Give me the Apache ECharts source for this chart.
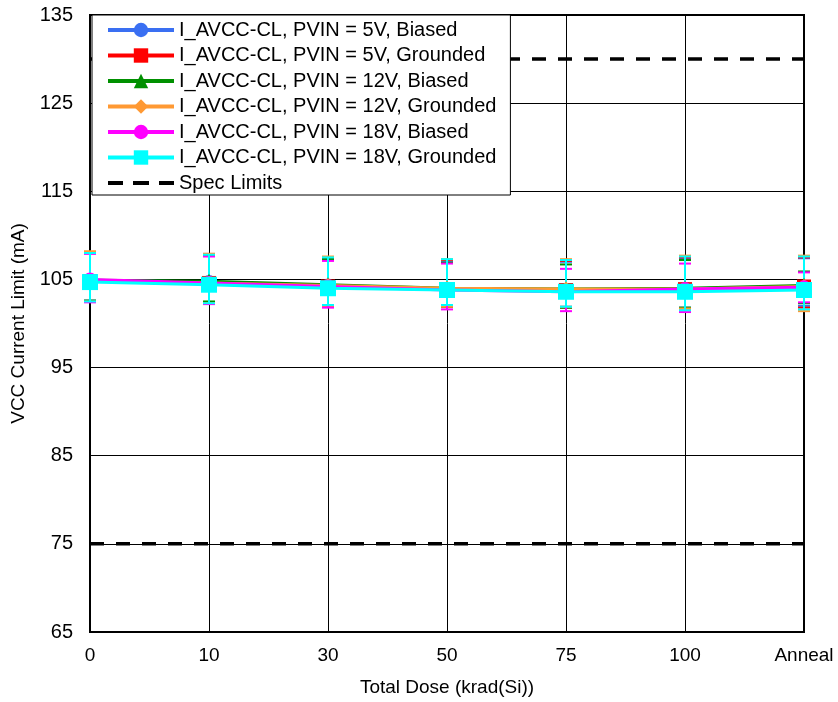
<!DOCTYPE html>
<html>
<head>
<meta charset="utf-8">
<script src="https://cdn.jsdelivr.net/npm/echarts@6/dist/echarts.min.js"></script>
<style>html,body{margin:0;padding:0;background:#fff;}#c{width:838px;height:702px;}</style>
</head>
<body>
<div id="c"></div>
<script>
const categories = ['0', '10', '30', '50', '75', '100', 'Anneal'];
const yTicks = [65, 75, 85, 95, 105, 115, 125, 135];

const names = [
  'I_AVCC-CL, PVIN = 5V, Biased',
  'I_AVCC-CL, PVIN = 5V, Grounded',
  'I_AVCC-CL, PVIN = 12V, Biased',
  'I_AVCC-CL, PVIN = 12V, Grounded',
  'I_AVCC-CL, PVIN = 18V, Biased',
  'I_AVCC-CL, PVIN = 18V, Grounded'
];

const mean5B  = [104.9, 104.7, 104.3, 103.9, 103.7, 103.8, 104.1];
const mean5G  = [104.8, 104.6, 104.2, 103.9, 103.8, 103.9, 104.2];
const mean12B = [104.9, 104.8, 104.4, 104.0, 103.9, 104.0, 104.3];
const mean12G = [104.8, 104.6, 104.3, 104.0, 103.9, 103.9, 104.2];
const mean18B = [105.0, 104.6, 104.2, 103.8, 103.6, 103.9, 104.1];
const mean18G = [104.7, 104.4, 104.0, 103.8, 103.6, 103.6, 103.8];

const hi5B  = [108.0, 107.8, 107.4, 107.1, 107.0, 107.4, 107.4];
const lo5B  = [102.6, 102.4, 102.1, 102.0, 101.9, 101.8, 102.0];
const hi5G  = [108.1, 107.9, 107.5, 107.2, 107.1, 107.5, 107.5];
const lo5G  = [102.5, 102.3, 102.0, 101.9, 101.8, 101.7, 101.8];
const hi12B = [108.0, 107.7, 107.3, 106.9, 106.7, 107.2, 105.9];
const lo12B = [102.6, 102.5, 102.1, 101.9, 101.8, 101.8, 102.3];
const hi12G = [108.2, 107.9, 107.6, 107.3, 107.3, 107.7, 107.7];
const lo12G = [102.5, 102.3, 102.0, 101.9, 101.9, 101.7, 101.4];
const hi18B = [107.9, 107.6, 107.1, 106.8, 106.2, 106.8, 105.8];
const lo18B = [102.4, 102.2, 101.8, 101.6, 101.4, 101.3, 102.4];
const hi18G = [108.0, 107.8, 107.5, 107.3, 107.2, 107.6, 107.6];
const lo18G = [102.5, 102.3, 102.1, 102.1, 101.9, 101.5, 101.6];

const specUpper = 130;
const specLower = 75;

const means = [mean5B, mean5G, mean12B, mean12G, mean18B, mean18G];
const his = [hi5B, hi5G, hi12B, hi12G, hi18B, hi18G];
const los = [lo5B, lo5G, lo12B, lo12G, lo18B, lo18G];
const colors = ['#3a6ff2', '#ff0000', '#009000', '#ff9933', '#ff00ff', '#00ffff'];
const symbols = ['circle', 'rect', 'triangle', 'diamond', 'circle', 'rect'];
const symSizes = [14, 14, 15, 15, 14, 16];

const FONT = '"Liberation Sans", Arial, sans-serif';
const chart = echarts.init(document.getElementById('c'), null, {renderer: 'canvas'});

const series = [];
means.forEach((m, i) => {
  series.push({
    name: 'err' + i,
    type: 'custom',
    z: 1,
    clip: false,
    silent: true,
    data: categories.map((c, k) => [k, los[i][k], his[i][k]]),
    encode: {x: 0, y: [1, 2]},
    renderItem: function (params, api) {
      const x = api.value(0);
      const pLo = api.coord([x, api.value(1)]);
      const pHi = api.coord([x, api.value(2)]);
      const w = 6;
      const st = {stroke: colors[i], lineWidth: 2, fill: null};
      return {
        type: 'group',
        children: [
          {type: 'line', shape: {x1: pLo[0], y1: pLo[1], x2: pHi[0], y2: pHi[1]}, style: st},
          {type: 'line', shape: {x1: pHi[0] - w, y1: pHi[1], x2: pHi[0] + w, y2: pHi[1]}, style: st},
          {type: 'line', shape: {x1: pLo[0] - w, y1: pLo[1], x2: pLo[0] + w, y2: pLo[1]}, style: st}
        ]
      };
    }
  });
});
series.push({
  name: 'Spec Limits', type: 'line', z: 1, symbol: 'none',
  data: categories.map(() => specUpper),
  lineStyle: {color: '#000', width: 3.5, type: [14, 12]}, itemStyle: {color: '#000'}
});
series.push({
  name: 'Spec Limits', type: 'line', z: 1, symbol: 'none',
  data: categories.map(() => specLower),
  lineStyle: {color: '#000', width: 3.5, type: [14, 12]}, itemStyle: {color: '#000'}
});
means.forEach((m, i) => {
  series.push({
    name: names[i], type: 'line', z: 3,
    data: m,
    symbol: symbols[i], symbolSize: symSizes[i],
    lineStyle: {color: colors[i], width: 3},
    itemStyle: {color: colors[i], borderWidth: 0}
  });
});

const legendData = names.map(n => ({name: n}));
legendData.push({
  name: 'Spec Limits',
  icon: 'path://M0,0h15v4h-15z M25,0h16v4h-16z M51,0h15v4h-15z',
  itemStyle: {color: '#000'}
});

chart.setOption({
  animation: false,
  backgroundColor: '#fff',
  textStyle: {fontFamily: FONT},
  grid: {left: 90, right: 34, top: 15, bottom: 70, show: true, borderColor: '#000', borderWidth: 2, backgroundColor: 'transparent'},
  legend: {
    data: legendData,
    orient: 'vertical', left: 92, top: 15,
    padding: [5, 14, 2, 14],
    itemWidth: 66, itemHeight: 18, itemGap: 5.5,
    backgroundColor: '#fff', borderColor: '#000', borderWidth: 1,
    lineStyle: {width: 4},
    textStyle: {fontFamily: FONT, fontSize: 20, color: '#000', lineHeight: 20}
  },
  xAxis: {
    type: 'category', data: categories, boundaryGap: false,
    name: 'Total Dose (krad(Si))', nameLocation: 'middle', nameGap: 46,
    nameTextStyle: {fontFamily: FONT, fontSize: 19, color: '#000'},
    axisLine: {lineStyle: {color: '#000', width: 2}},
    axisTick: {show: false},
    axisLabel: {fontFamily: FONT, fontSize: 19, color: '#000', margin: 14},
    splitLine: {show: true, lineStyle: {color: '#000', width: 1}}
  },
  yAxis: {
    type: 'value', min: yTicks[0], max: yTicks[yTicks.length - 1], interval: 10,
    name: 'VCC Current Limit (mA)', nameLocation: 'middle', nameGap: 60,
    nameTextStyle: {fontFamily: FONT, fontSize: 19, color: '#000'},
    axisLine: {show: true, lineStyle: {color: '#000', width: 2}},
    axisTick: {show: false},
    axisLabel: {fontFamily: FONT, fontSize: 20, color: '#000', margin: 17},
    splitLine: {show: true, lineStyle: {color: '#000', width: 1}}
  },
  series: series
});
</script>
</body>
</html>
